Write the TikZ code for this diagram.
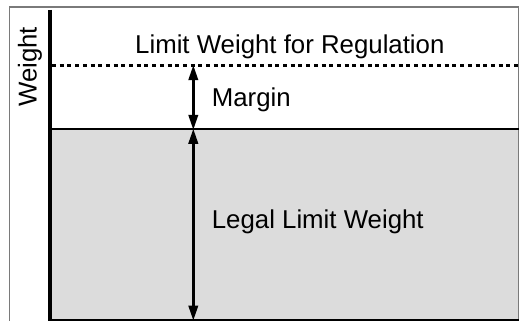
\documentclass[tikz,border=0pt]{standalone}
\usepackage{fontspec}
\setmainfont{Liberation Sans}
\usetikzlibrary{arrows.meta}
\definecolor{framegray}{HTML}{7A7A7A}
\definecolor{fillgray}{HTML}{DCDCDC}
\tikzset{
  lbl/.style={font=\fontsize{25.8pt}{30pt}\selectfont, inner sep=0pt, anchor=base west},
  dimarrow/.style={line width=2.4pt, {Triangle[length=15pt,width=9.5pt]}-{Triangle[length=15pt,width=9.5pt]}, shorten <=-0.5pt, shorten >=-0.5pt},
}
\begin{document}
\begin{tikzpicture}[x=1pt,y=-1pt]
  \useasboundingbox (0,0) rectangle (522,321);
  % outer frame
  \draw[framegray, line width=1.2pt] (9.5,7) rectangle (518.5,321.5);
  % legal region
  \fill[fillgray] (50,129.3) rectangle (518,320);
  \draw[line width=2pt] (50,129.3) -- (518.5,129.3);
  \draw[line width=1.5pt] (50,320) -- (518.5,320);
  % regulation limit (dotted)
  \draw[line width=3pt, dash pattern=on 4pt off 3.7pt] (52,65.7) -- (518,65.7);
  % weight axis
  \draw[line width=3.2pt] (50,10) -- (50,321);
  % arrow end points
  \coordinate (limtop) at (193.3,65.7);
  \coordinate (legtop) at (193.3,129.3);
  \coordinate (legbot) at (193.3,320);
  \draw[dimarrow] (limtop) -- (legtop);
  \draw[dimarrow] (legtop) -- (legbot);
  % labels
  \node[lbl] (reg) at (135,53.3) {Limit Weight for Regulation};
  \node[lbl] (margin) at (211.7,106.7) {Margin};
  \node[lbl] (legal) at (211.7,228.3) {Legal Limit Weight};
  \node[lbl, rotate=90] (axis) at (36.7,107) {Weight};
\end{tikzpicture}
\end{document}
